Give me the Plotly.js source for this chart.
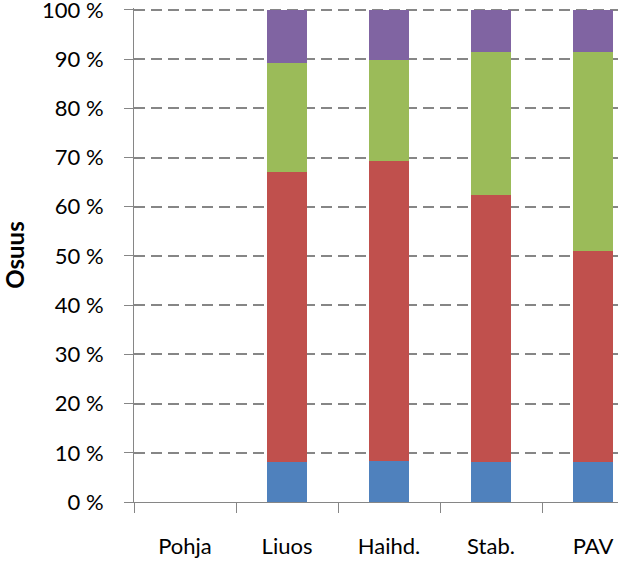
<!DOCTYPE html>
<html><head><meta charset="utf-8">
<script src="https://cdn.plot.ly/plotly-3.0.1.min.js"></script>
<style>html,body{margin:0;padding:0;background:#fff}#c{width:618px;height:562px}</style>
</head><body><div id="c"></div>
<script>
var categories = ["Pohja", "Liuos", "Haihd.", "Stab.", "PAV"];
var blueVals   = [null, 8.2, 8.3, 8.2, 8.2];
var redVals    = [null, 58.9, 61.1, 54.1, 42.9];
var greenVals  = [null, 22.2, 20.5, 29.2, 40.4];
var purpleVals = [null, 10.7, 10.1, 8.5, 8.5];
var yTicks = [0,10,20,30,40,50,60,70,80,90,100];

var colors = ["#4F81BD", "#C0504D", "#9BBB59", "#8064A2"];
var series = [blueVals, redVals, greenVals, purpleVals];
var traces = series.map(function(v, i){
  return {type:"bar", x:categories, y:v, marker:{color:colors[i], line:{width:0}}, showlegend:false, hoverinfo:"skip"};
});
var FONT = "Lato, 'Open Sans', sans-serif";
var layout = {
  width:618, height:562,
  margin:{l:134, r:0, t:8, b:60, pad:0},
  paper_bgcolor:"#fff", plot_bgcolor:"#fff",
  barmode:"stack", bargap:0.6,
  font:{family:FONT, size:22, color:"#000"},
  xaxis:{type:"category", range:[-0.5, 4.245], tickson:"boundaries",
    ticks:"outside", ticklen:10, tickcolor:"#868686", tickwidth:1,
    showline:true, linecolor:"#868686", linewidth:1, showgrid:false,
    ticklabelstandoff:25, tickfont:{family:FONT, size:22, color:"#000"}, zeroline:false, fixedrange:true},
  yaxis:{range:[0,100.4], tickvals:yTicks, ticktext:yTicks.map(function(t){return t+" %";}),
    ticks:"outside", ticklen:9, tickcolor:"#868686", tickwidth:1,
    showline:true, linecolor:"#868686", linewidth:1,
    showgrid:true, gridcolor:"#868686", gridwidth:2, griddash:"11px,6px",
    zeroline:false, ticklabelstandoff:16, ticklabeloverflow:"allow",
    tickfont:{family:FONT, size:22, color:"#000"},
    title:{text:"<b>Osuus</b>", font:{family:FONT, size:24, color:"#000"}, standoff:25}, fixedrange:true}
};
Plotly.newPlot("c", traces, layout, {displayModeBar:false, staticPlot:true});
</script></body></html>
